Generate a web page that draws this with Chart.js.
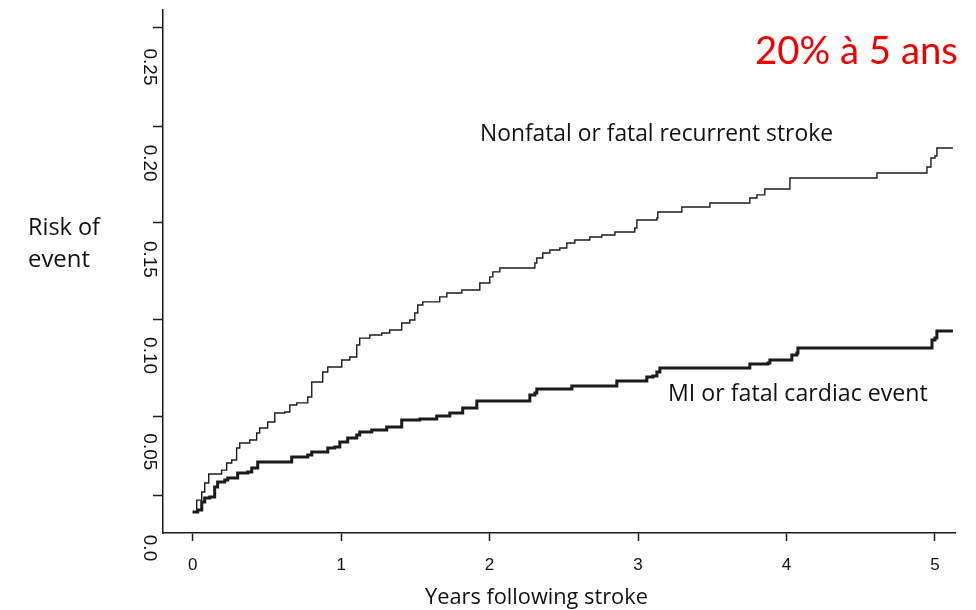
<!DOCTYPE html>
<html>
<head>
<meta charset="utf-8">
<script src="https://cdn.jsdelivr.net/npm/chart.js@4"></script>
<style>
  html, body { margin: 0; padding: 0; background: #fff; }
  #wrap { width: 976px; height: 610px; }
</style>
</head>
<body>
<div id="wrap"><canvas id="riskChart" width="976" height="610"></canvas></div>
<script>
// Nonfatal or fatal recurrent stroke (years, cumulative risk)
const strokeYears = [0, 0.027, 0.061, 0.081, 0.108, 0.182, 0.195, 0.229, 0.263, 0.296, 0.317, 0.384, 0.431, 0.451, 0.505, 0.553,
    0.620, 0.654, 0.701, 0.775, 0.802, 0.876, 0.910, 1.004, 1.058, 1.105, 1.125, 1.193, 1.274, 1.327, 1.408, 1.462,
    1.496, 1.516, 1.550, 1.664, 1.712, 1.813, 1.934, 2.001, 2.022, 2.069, 2.305, 2.318, 2.358, 2.406, 2.473, 2.520,
    2.574, 2.675, 2.756, 2.844, 2.978, 2.992, 3.127, 3.133, 3.295, 3.484, 3.753, 3.801, 3.854, 4.023, 4.609, 4.946,
    4.973, 5.000, 5.013, 5.121];
const strokeRisk = [0.0187, 0.0249, 0.0291, 0.0338, 0.0385, 0.0385, 0.0405, 0.0442, 0.0457, 0.0520, 0.0546, 0.0561, 0.0598, 0.0624, 0.0655, 0.0702,
    0.0707, 0.0743, 0.0754, 0.0785, 0.0863, 0.0915, 0.0941, 0.0977, 0.0993, 0.1055, 0.1091, 0.1107, 0.1117, 0.1133, 0.1169, 0.1185,
    0.1221, 0.1263, 0.1279, 0.1305, 0.1325, 0.1341, 0.1377, 0.1409, 0.1435, 0.1455, 0.1481, 0.1507, 0.1533, 0.1549, 0.1559, 0.1585,
    0.1601, 0.1616, 0.1627, 0.1642, 0.1663, 0.1705, 0.1715, 0.1746, 0.1772, 0.1793, 0.1819, 0.1835, 0.1866, 0.1923, 0.1949, 0.1980,
    0.2027, 0.2037, 0.2079, 0.2079];

// MI or fatal cardiac event
const miYears = [0, 0.034, 0.061, 0.081, 0.115, 0.148, 0.168, 0.216, 0.236, 0.303, 0.371, 0.398, 0.438, 0.667, 0.775, 0.802,
    0.910, 0.957, 0.991, 1.044, 1.105, 1.125, 1.206, 1.307, 1.408, 1.530, 1.644, 1.732, 1.819, 1.914, 2.271, 2.305,
    2.318, 2.554, 2.857, 3.059, 3.100, 3.127, 3.147, 3.753, 3.875, 3.888, 4.036, 4.070, 4.077, 4.980, 5.000, 5.013, 5.121];
const miRisk = [0.0187, 0.0198, 0.0239, 0.0260, 0.0265, 0.0317, 0.0343, 0.0353, 0.0364, 0.0390, 0.0395, 0.0416, 0.0447, 0.0473, 0.0483, 0.0499,
    0.0520, 0.0525, 0.0551, 0.0572, 0.0587, 0.0603, 0.0613, 0.0629, 0.0665, 0.0670, 0.0686, 0.0702, 0.0728, 0.0764, 0.0795, 0.0806,
    0.0826, 0.0842, 0.0868, 0.0889, 0.0894, 0.0915, 0.0936, 0.0956, 0.0962, 0.0977, 0.1003, 0.1014, 0.1040, 0.1081, 0.1091, 0.1128, 0.1128];

const xTicks = [0, 1, 2, 3, 4, 5];
const yTickLabels = ['0.0', '0.05', '0.10', '0.15', '0.20', '0.25'];
// the scanned figure has its tick marks sitting above the printed labels
const yTickMarks = [0.0275, 0.0681, 0.1185, 0.1694, 0.2193, 0.2703];

const ink = '#1b1b1b';

function fitText(ctx, text, family, weight, width) {
    ctx.font = weight + ' 20px ' + family;
    const size = 20 * width / ctx.measureText(text).width;
    ctx.font = weight + ' ' + size.toFixed(2) + 'px ' + family;
}

const textPlugin = {
    id: 'figureText',
    afterDraw(chart) {
        const ctx = chart.ctx;
        const y = chart.scales.y;
        ctx.save();

        // rotated y tick labels
        ctx.fillStyle = '#111';
        ctx.font = '19px "Liberation Sans", Arial, sans-serif';
        ctx.textAlign = 'center';
        ctx.textBaseline = 'middle';
        yTickLabels.forEach(lbl => {
            const py = y.getPixelForValue(parseFloat(lbl));
            ctx.save();
            ctx.translate(149, py);
            ctx.rotate(Math.PI / 2);
            ctx.fillText(lbl, 0, 0);
            ctx.restore();
        });

        const fam = '"Open Sans", "Noto Sans", sans-serif';
        ctx.textAlign = 'left';
        ctx.fillStyle = '#111';
        fitText(ctx, 'Risk of', fam, '400', 72);
        ctx.fillText('Risk of', 28, 228);
        fitText(ctx, 'event', fam, '400', 62);
        ctx.fillText('event', 28, 260);

        fitText(ctx, 'Nonfatal or fatal recurrent stroke', fam, '400', 353);
        ctx.fillText('Nonfatal or fatal recurrent stroke', 480, 134);
        fitText(ctx, 'MI or fatal cardiac event', fam, '400', 260);
        ctx.fillText('MI or fatal cardiac event', 668, 394);
        fitText(ctx, 'Years following stroke', fam, '400', 223);
        ctx.fillText('Years following stroke', 425, 598);

        ctx.fillStyle = '#f20000';
        fitText(ctx, '20% à 5 ans', 'Lato, "Open Sans", sans-serif', '400', 203);
        ctx.fillText('20% à 5 ans', 755, 52);
        ctx.restore();
    }
};

const ctx = document.getElementById('riskChart').getContext('2d');
new Chart(ctx, {
    type: 'line',
    data: {
        datasets: [
            {
                label: 'Nonfatal or fatal recurrent stroke',
                data: strokeYears.map((t, i) => ({ x: t, y: strokeRisk[i] })),
                borderColor: ink,
                borderWidth: 1.4,
                stepped: true,
                pointRadius: 0,
                fill: false
            },
            {
                label: 'MI or fatal cardiac event',
                data: miYears.map((t, i) => ({ x: t, y: miRisk[i] })),
                borderColor: ink,
                borderWidth: 3,
                stepped: true,
                pointRadius: 0,
                fill: false
            }
        ]
    },
    options: {
        responsive: false,
        animation: false,
        layout: { padding: { top: 10, right: 21, left: 0, bottom: 0 } },
        plugins: {
            legend: { display: false },
            tooltip: { enabled: false }
        },
        scales: {
            x: {
                type: 'linear',
                min: -0.2,
                max: 5.135,
                afterBuildTicks: scale => { scale.ticks = xTicks.map(v => ({ value: v })); },
                afterFit: scale => { scale.height = 77; },
                border: { display: true, color: ink, width: 1.5 },
                grid: { drawOnChartArea: false, drawTicks: true, tickLength: 8, color: ink, tickWidth: 1.5 },
                ticks: {
                    color: '#111',
                    padding: 14,
                    maxRotation: 0,
                    font: { family: '"Liberation Sans", Arial, sans-serif', size: 17 }
                }
            },
            y: {
                type: 'linear',
                min: 0.0078,
                max: 0.2796,
                afterBuildTicks: scale => { scale.ticks = yTickMarks.map(v => ({ value: v })); },
                afterFit: scale => { scale.width = 163; },
                border: { display: true, color: ink, width: 1.5 },
                grid: { drawOnChartArea: false, drawTicks: true, tickLength: 10, color: ink, tickWidth: 1.5 },
                ticks: { display: false }
            }
        }
    },
    plugins: [textPlugin]
});
</script>
</body>
</html>
